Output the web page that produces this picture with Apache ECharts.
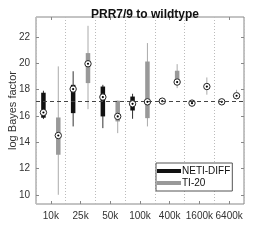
<!DOCTYPE html>
<html>
<head>
<meta charset="utf-8">
<script src="https://cdn.jsdelivr.net/npm/echarts@6/dist/echarts.min.js"></script>
<style>html,body{margin:0;padding:0;background:#fff}#c{width:270px;height:243px}</style>
</head>
<body>
<div id="c"></div>
<script>
const categories = ['10k', '25k', '50k', '100k', '400k', '1600k', '6400k'];
// [whiskerLow, q1, median, q3, whiskerHigh]
const netiDiff = [
  [15.75, 15.85, 16.25, 17.75, 17.9],
  [15.19, 16.2, 18.03, 18.35, 19.38],
  [15.06, 15.95, 17.42, 18.22, 18.35],
  [15.77, 16.4, 16.91, 17.46, 17.67],
  [17.08, 17.09, 17.11, 17.13, 17.14],
  [16.93, 16.94, 16.96, 16.98, 16.99],
  [17.03, 17.04, 17.06, 17.08, 17.09]
];
const ti20 = [
  [10.0, 13.04, 14.5, 15.87, 19.75],
  [16.5, 18.48, 19.95, 20.76, 22.83],
  [14.68, 15.57, 15.95, 17.14, 17.15],
  [15.19, 15.82, 17.06, 20.12, 21.52],
  [18.1, 18.5, 18.56, 19.42, 19.92],
  [17.6, 18.2, 18.22, 18.25, 18.91],
  [17.27, 17.5, 17.52, 17.55, 17.97]
];
const ti20Outliers = [[2, 19.95]]; // [groupIndex, value]
const yTicks = [10, 12, 14, 16, 18, 20, 22];
const refLine = 17.1;

const FONT = 'Liberation Sans';
const chart = echarts.init(document.getElementById('c'), null, {renderer: 'canvas'});

function toData(arr, offset) {
  return arr.map((v, i) => [2 * i + offset].concat(v));
}
function makeRender(color, whiskerColor) {
  return function (params, api) {
    const x = api.value(0);
    const pWL = api.coord([x, api.value(1)]);
    const pQ1 = api.coord([x, api.value(2)]);
    const pMed = api.coord([x, api.value(3)]);
    const pQ3 = api.coord([x, api.value(4)]);
    const pWH = api.coord([x, api.value(5)]);
    return {
      type: 'group',
      children: [
        {type: 'line', shape: {x1: pWL[0], y1: pWL[1], x2: pWH[0], y2: pWH[1]},
         style: {stroke: whiskerColor, lineWidth: 1}},
        {type: 'line', shape: {x1: pQ1[0], y1: pQ1[1], x2: pQ3[0], y2: pQ3[1]},
         style: {stroke: color, lineWidth: 4.5}},
        {type: 'circle', shape: {cx: pMed[0], cy: pMed[1], r: 3.2},
         style: {fill: '#fff', stroke: '#222', lineWidth: 1}},
        {type: 'circle', shape: {cx: pMed[0], cy: pMed[1], r: 1.1},
         style: {fill: '#000'}}
      ]
    };
  };
}

const axisGray = '#888';
const textColor = '#333';

chart.setOption({
  animation: false,
  backgroundColor: '#fff',
  title: {
    text: 'PRR7/9 to wildtype', left: 140, top: 4, textAlign: 'center',
    textStyle: {fontFamily: FONT, fontSize: 12, fontWeight: 'bold', color: '#111'}
  },
  grid: {left: 36, right: 26, top: 17, bottom: 39, show: true, borderColor: axisGray, borderWidth: 1,
         backgroundColor: '#fff', outerBoundsMode: 'none', containLabel: false},
  legend: {
    left: 156, top: 163, orient: 'vertical',
    data: [{name: 'NETI-DIFF', icon: 'rect'}, {name: 'TI-20', icon: 'rect'}],
    itemWidth: 24, itemHeight: 4, itemGap: 2,
    padding: [3, 2, 3, 1],
    backgroundColor: '#fff', borderColor: '#555', borderWidth: 1, borderRadius: 0,
    textStyle: {fontFamily: FONT, fontSize: 10, color: '#111', padding: [0, 0, 0, -4]}
  },
  xAxis: [
    {type: 'category', data: categories, position: 'bottom', boundaryGap: true,
     axisLine: {show: false},
     axisTick: {show: true, inside: true, alignWithLabel: true, length: 3, lineStyle: {color: axisGray}},
     axisLabel: {fontFamily: FONT, fontSize: 10, color: textColor, margin: 7, interval: 0, hideOverlap: false},
     splitLine: {show: true, lineStyle: {color: '#bbb', type: [1, 2], width: 1}}},
    {type: 'value', min: 0.5, max: 14.5, show: false},
    {type: 'category', data: categories, position: 'top', boundaryGap: true,
     axisLine: {show: false},
     axisTick: {show: true, inside: true, alignWithLabel: true, length: 3, lineStyle: {color: axisGray}},
     axisLabel: {show: false}, splitLine: {show: false}}
  ],
  yAxis: [
    {type: 'value', min: 9.3, max: 23.5, position: 'left',
     name: 'log Bayes factor', nameLocation: 'middle', nameGap: 18, nameMoveOverlap: false,
     nameTextStyle: {fontFamily: FONT, fontSize: 11, color: textColor},
     axisLine: {show: false},
     axisTick: {show: true, inside: true, length: 3, customValues: yTicks, lineStyle: {color: axisGray}},
     axisLabel: {fontFamily: FONT, fontSize: 10, color: textColor, margin: 6, customValues: yTicks},
     splitLine: {show: false}},
    {type: 'value', min: 9.3, max: 23.5, position: 'right',
     axisLine: {show: false},
     axisTick: {show: true, inside: true, length: 3, customValues: yTicks, lineStyle: {color: axisGray}},
     axisLabel: {show: false}, splitLine: {show: false}}
  ],
  series: [
    {name: 'NETI-DIFF', type: 'custom', xAxisIndex: 1, yAxisIndex: 0,
     itemStyle: {color: '#111'},
     renderItem: makeRender('#111', '#333'),
     encode: {x: 0, y: [1, 2, 3, 4, 5]},
     data: toData(netiDiff, 1), z: 3,
     markLine: {silent: true, symbol: 'none', label: {show: false},
       lineStyle: {color: '#444', type: [4, 3], width: 1},
       data: [{yAxis: refLine}]}},
    {name: 'TI-20', type: 'custom', xAxisIndex: 1, yAxisIndex: 0,
     itemStyle: {color: '#999'},
     renderItem: makeRender('#999', '#aaa'),
     encode: {x: 0, y: [1, 2, 3, 4, 5]},
     data: toData(ti20, 2), z: 3},
    {name: 'outliers', type: 'scatter', xAxisIndex: 1, yAxisIndex: 0,
     symbol: 'emptyCircle', symbolSize: 4.5,
     itemStyle: {color: '#fff', borderColor: '#999', borderWidth: 0.8},
     data: ti20Outliers.map(o => [2 * o[0] + 2, o[1]]), z: 4}
  ]
});
</script>
</body>
</html>
